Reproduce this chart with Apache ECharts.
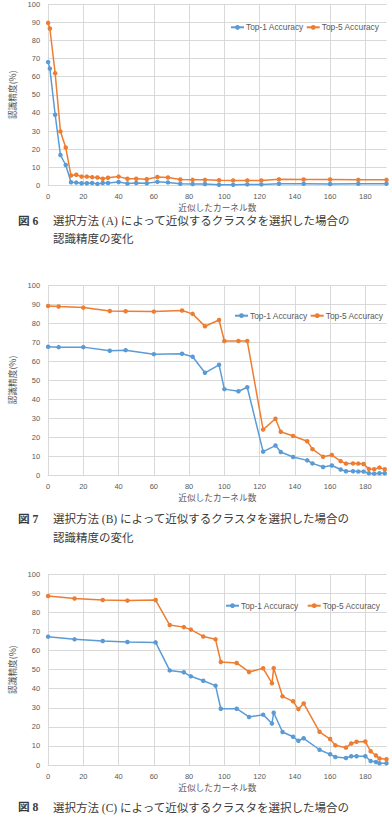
<!DOCTYPE html>
<html><head><meta charset="utf-8">
<script src="https://cdn.jsdelivr.net/npm/echarts@6/dist/echarts.min.js"></script>
<style>html,body{margin:0;padding:0;background:#fff;}#c{width:391px;height:821px;}</style>
</head><body><div id="c"></div>
<script>
// ---- data ----
const seriesNames = ['Top-1 Accuracy', 'Top-5 Accuracy'];
const xAxisTitle = '近似したカーネル数';
const yAxisTitle = '認識精度(%)';

const c1X    = [0,1,4,7,10,13,16,19,22,25,28,31,34,40,45,50,56,62,68,75,82,89,97,105,113,121,131,145,160,176,192];
const c1Top1 = [68,64.4,39,16.8,11.3,1.8,1.6,1.2,1.2,1.4,0.9,1.4,1.4,1.9,1.1,1.4,1.2,2.0,1.7,1.0,0.8,0.8,0.4,0.4,0.6,0.6,1.0,1.0,0.8,1.0,1.0];
const c1Top5 = [89.6,86.5,61.9,29.8,20.9,5.5,5.9,4.9,4.9,4.6,4.4,3.7,4.3,4.9,3.7,3.7,3.5,4.7,4.4,3.3,3.1,3.1,2.9,2.8,2.8,2.8,3.4,3.3,3.3,3.1,3.1];

const c2X    = [0,6,20,35,44,60,76,82,89,97,100,108,113,122,129,132,139,147,150,156,161,166,169,173,176,179,182,185,188,191];
const c2Top1 = [67.5,67.3,67.3,65.4,65.7,63.6,63.8,62.2,53.8,58,45.2,44.1,46.2,12.3,15.5,12.1,9.5,7.7,6.1,4.2,5.0,2.9,2.0,2.0,1.8,1.8,0.9,0.7,0.9,0.9];
const c2Top5 = [89.0,88.7,88.1,86.3,86.2,86.0,86.6,84.8,78.3,81.6,70.5,70.5,70.5,23.9,29.6,22.8,20.5,17.8,13.6,9.6,10.5,7.3,6.0,6.1,6.0,5.8,3.2,3.0,3.9,3.0];

const c3X    = [0,15,31,45,61,69,77,81,88,95,98,107,114,122,127,128,133,139,142,145,154,160,163,169,172,175,180,183,186,188,192];
const c3Top1 = [67.3,65.9,65.0,64.5,64.3,49.6,48.6,46.5,44.2,41.6,29.5,29.5,25.2,26.4,21.8,27.4,17.3,14.8,12.7,14.0,8.0,5.6,4.2,3.7,4.6,4.6,4.6,2.1,1.6,0.9,0.9];
const c3Top5 = [88.6,87.3,86.5,86.2,86.5,73.4,72.3,71.0,67.4,65.9,54.0,53.5,48.8,50.7,42.9,50.8,36.0,33.4,29.3,32.3,17.4,13.6,10.3,9.1,11.3,12.2,12.3,7.2,5.0,3.4,3.0];

const captionNums = ['図 6', '図 7', '図 8'];
const captionLine1 = ['選択方法 (A) によって近似するクラスタを選択した場合の',
                      '選択方法 (B) によって近似するクラスタを選択した場合の',
                      '選択方法 (C) によって近似するクラスタを選択した場合の'];
const captionLine2 = ['認識精度の変化', '認識精度の変化', null];

// ---- layout ----
const charts = [
  {x: c1X, t1: c1Top1, t5: c1Top5, top: -2.5, height: 188, legendLeft: 230, legendTop: 23.3, legendGap: 2, cap1: 223.3, cap2: 241.7},
  {x: c2X, t1: c2Top1, t5: c2Top5, top: 285, height: 190, legendLeft: 234, legendTop: 311.7, legendGap: 2, cap1: 521.7, cap2: 540.7},
  {x: c3X, t1: c3Top1, t5: c3Top5, top: 574.3, height: 190.7, legendLeft: 225, legendTop: 601.7, legendGap: 8, cap1: 810, cap2: 829}
];
const BLUE = '#5B9BD5', ORANGE = '#ED7D31', GRID = '#D9D9D9', LABEL = '#595959';
const latin = "'Liberation Sans', Arial, sans-serif";
const cjk = "'Noto Sans CJK JP', sans-serif";
const capFont = "'Liberation Serif', 'Noto Sans CJK JP', serif";

const zip = (xs, ys) => xs.map((x, i) => [x, ys[i]]);
const xSplitColors = Array(10).fill(GRID).concat(['rgba(0,0,0,0)']);

const option = {
  animation: false,
  backgroundColor: '#fff',
  grid: charts.map(c => ({left: 42.5, top: c.top, width: 344, height: c.height})),
  xAxis: charts.map((c, i) => ({
    type: 'value', gridIndex: i, min: 0, max: 192, interval: 20,
    name: xAxisTitle, nameLocation: 'middle', nameGap: 18,
    nameTextStyle: {fontFamily: cjk, fontSize: 8.7, color: LABEL},
    axisLine: {show: true, lineStyle: {color: GRID, width: 1}},
    axisTick: {show: false},
    axisLabel: {fontFamily: latin, fontSize: 7.5, color: LABEL, margin: 7,
      formatter: v => (v % 20 === 0 ? String(v) : '')},
    splitLine: {show: true, lineStyle: {color: xSplitColors, width: 1}}
  })),
  yAxis: charts.map((c, i) => ({
    type: 'value', gridIndex: i, min: 0, max: 100, interval: 10,
    name: yAxisTitle, nameLocation: 'middle', nameGap: 18, nameRotate: 90,
    nameTextStyle: {fontFamily: cjk, fontSize: 8.7, color: LABEL},
    axisLine: {show: false}, axisTick: {show: false},
    axisLabel: {fontFamily: latin, fontSize: 7.5, color: LABEL, margin: 8},
    splitLine: {show: true, lineStyle: {color: GRID, width: 1}}
  })),
  legend: charts.map(c => ({
    left: c.legendLeft, top: c.legendTop, width: 220, padding: 0, orient: 'horizontal',
    itemWidth: 13, itemHeight: 6, itemGap: c.legendGap,
    textStyle: {fontFamily: latin, fontSize: 8.4, color: LABEL, padding: [0, 0, 0, -3]},
    data: seriesNames.slice(),
    selectedMode: false
  })),
  series: [],
  graphic: []
};

charts.forEach((c, i) => {
  [[c.t1, BLUE, seriesNames[0]], [c.t5, ORANGE, seriesNames[1]]].forEach(([ys, col, name]) => {
    option.series.push({
      type: 'line', name: name, xAxisIndex: i, yAxisIndex: i,
      data: zip(c.x, ys), symbol: 'circle', symbolSize: 4.5, showSymbol: true,
      itemStyle: {color: col}, lineStyle: {color: col, width: 1.5}
    });
  });
  option.graphic.push(
    {type: 'text', left: 18, top: c.cap1 - 8, style: {text: captionNums[i], font: "bold 11.7px " + capFont, fill: '#3a3a3a'}},
    {type: 'text', left: 53, top: c.cap1 - 8, style: {text: captionLine1[i], font: "11.5px " + capFont, fill: '#3a3a3a'}}
  );
  if (captionLine2[i]) {
    option.graphic.push(
      {type: 'text', left: 53, top: c.cap2 - 8, style: {text: captionLine2[i], font: "11.5px " + capFont, fill: '#3a3a3a'}}
    );
  }
});

const chart = echarts.init(document.getElementById('c'), null, {renderer: 'svg'});
chart.setOption(option);
</script>
</body></html>
